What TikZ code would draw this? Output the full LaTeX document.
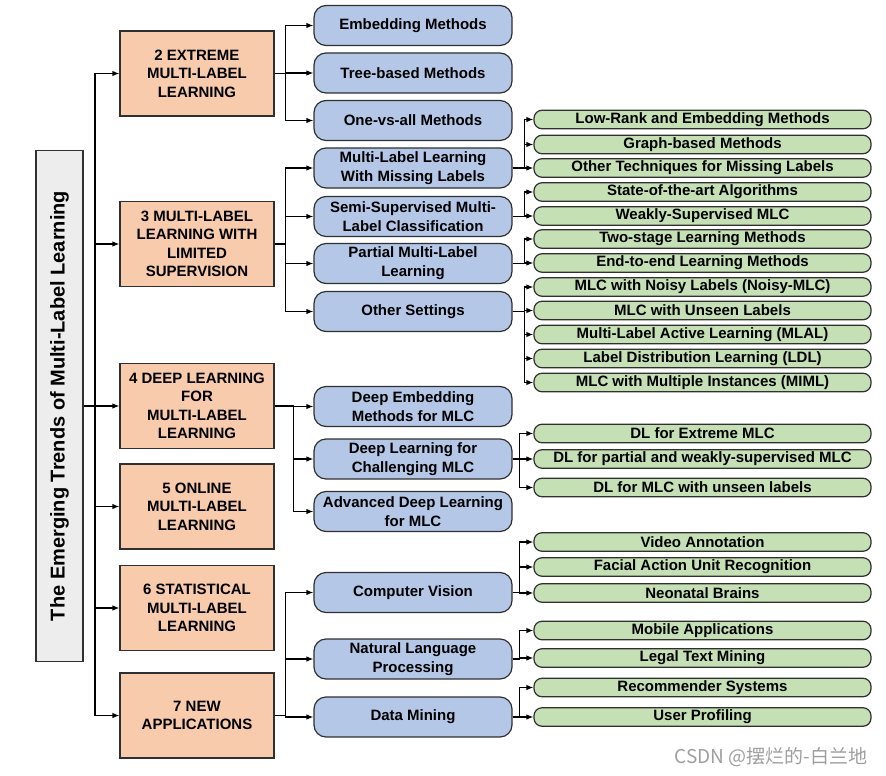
\documentclass[tikz,border=0pt]{standalone}
\usepackage{fontspec}
\setmainfont{Liberation Sans}
\newfontfamily\cjkfont{Noto Sans CJK SC}
\usetikzlibrary{arrows.meta}

\definecolor{boxline}{HTML}{303030}
\definecolor{titlefill}{HTML}{EDEDED}
\definecolor{secfill}{HTML}{F8CBAD}
\definecolor{topicfill}{HTML}{B4C7E7}
\definecolor{leaffill}{HTML}{C5E0B4}

\tikzset{
  titlebox/.style={draw=boxline, fill=titlefill, line width=1.2pt, minimum width=511pt, minimum height=47pt,
    font=\fontsize{20}{24}\selectfont\bfseries},
  secbox/.style={draw=boxline, fill=secfill, line width=1.2pt, minimum width=154pt, minimum height=85pt,
    inner sep=2pt, align=center, font=\fontsize{15}{18.5}\selectfont\bfseries},
  topicbox/.style={draw=boxline, fill=topicfill, line width=1.2pt, rounded corners=12pt, minimum width=198pt,
    minimum height=40pt, inner sep=2pt, align=center, font=\fontsize{15}{19}\selectfont\bfseries},
  leafbox/.style={draw=boxline, fill=leaffill, line width=1.2pt, rounded corners=8pt, minimum width=337pt,
    minimum height=18.5pt, inner sep=0pt, font=\fontsize{15}{18}\selectfont\bfseries},
  link/.style={line width=1.2pt, -{Latex[length=7pt,width=5.5pt]}},
}

\begin{document}
\begin{tikzpicture}[x=1pt, y=-1pt]
        \useasboundingbox (0,0) rectangle (886,776);

        % root
        \node[titlebox, rotate=90] (title) at (59.5,406) {The Emerging Trends of Multi-Label Learning};
        \coordinate (trunk) at (95,406);

        % sections
        \node[secbox] (sec2) at (197,73.5)  {2 EXTREME\\MULTI-LABEL\\LEARNING};
        \node[secbox] (sec3) at (197,244)   {3 MULTI-LABEL\\LEARNING WITH\\LIMITED\\SUPERVISION};
        \node[secbox] (sec4) at (197,406)   {4 DEEP LEARNING\\FOR\\MULTI-LABEL\\LEARNING};
        \node[secbox] (sec5) at (197,506.5) {5 ONLINE\\MULTI-LABEL\\LEARNING};
        \node[secbox] (sec6) at (197,608)   {6 STATISTICAL\\MULTI-LABEL\\LEARNING};
        \node[secbox] (sec7) at (197,715.5) {7 NEW\\APPLICATIONS};

        % topics
        \node[topicbox] (emb)      at (413,25.5)  {Embedding Methods};
        \node[topicbox] (tree)     at (413,73)    {Tree-based Methods};
        \node[topicbox] (ova)      at (413,120.5) {One-vs-all Methods};
        \node[topicbox] (miss)     at (413,168)   {Multi-Label Learning\\With Missing Labels};
        \node[topicbox] (semi)     at (413,216.5) {Semi-Supervised Multi-\\Label Classification};
        \node[topicbox] (part)     at (413,263.5) {Partial Multi-Label\\Learning};
        \node[topicbox] (other)    at (413,311.5) {Other Settings};
        \node[topicbox] (deepemb)  at (413,406.5) {Deep Embedding\\Methods for MLC};
        \node[topicbox] (deepchal) at (413,459)   {Deep Learning for\\Challenging MLC};
        \node[topicbox] (deepadv)  at (413,511.5) {Advanced Deep Learning\\for MLC};
        \node[topicbox] (cv)       at (413,592.5) {Computer Vision};
        \node[topicbox] (nlp)      at (413,659)   {Natural Language\\Processing};
        \node[topicbox] (dm)       at (413,717)   {Data Mining};

        % leaves
        \node[leafbox] (lowrank)   at (702.5,119.5) {Low-Rank and Embedding Methods};
        \node[leafbox] (graph)     at (702.5,144.5) {Graph-based Methods};
        \node[leafbox] (othtech)   at (702.5,168)   {Other Techniques for Missing Labels};
        \node[leafbox] (sota)      at (702.5,192)   {State-of-the-art Algorithms};
        \node[leafbox] (weak)      at (702.5,216)   {Weakly-Supervised MLC};
        \node[leafbox] (twostage)  at (702.5,239)   {Two-stage Learning Methods};
        \node[leafbox] (endtoend)  at (702.5,263)   {End-to-end Learning Methods};
        \node[leafbox] (noisy)     at (702.5,287)   {MLC with Noisy Labels (Noisy-MLC)};
        \node[leafbox] (unseen)    at (702.5,310.5) {MLC with Unseen Labels};
        \node[leafbox] (mlal)      at (702.5,334.5) {Multi-Label Active Learning (MLAL)};
        \node[leafbox] (ldl)       at (702.5,358.5) {Label Distribution Learning (LDL)};
        \node[leafbox] (miml)      at (702.5,382.5) {MLC with Multiple Instances (MIML)};
        \node[leafbox] (dlxml)     at (702.5,433.5) {DL for Extreme MLC};
        \node[leafbox] (dlpart)    at (702.5,459)   {DL for partial and weakly-supervised MLC};
        \node[leafbox] (dlunseen)  at (702.5,487.5) {DL for MLC with unseen labels};
        \node[leafbox] (video)     at (702.5,542)   {Video Annotation};
        \node[leafbox] (facial)    at (702.5,567)   {Facial Action Unit Recognition};
        \node[leafbox] (neonatal)  at (702.5,593)   {Neonatal Brains};
        \node[leafbox] (mobile)    at (702.5,630.5) {Mobile Applications};
        \node[leafbox] (legal)     at (702.5,658)   {Legal Text Mining};
        \node[leafbox] (recsys)    at (702.5,687.5) {Recommender Systems};
        \node[leafbox] (userprof)  at (702.5,717)   {User Profiling};

        % root -> sections
        \draw[link] (title.south) -- (title.south -| sec4.west);
        \draw[link] (trunk) |- (sec2.west);
        \draw[link] (trunk) |- (sec3.west);
        \draw[link] (trunk) |- (sec5.west);
        \draw[link] (trunk) |- (sec6.west);
        \draw[link] (trunk) |- (sec7.west);

        % sections -> topics
        \draw[link] (sec2.east) -- ++(11,0) |- (emb.west);
        \draw[link] (sec2.east) -- ++(11,0) |- (tree.west);
        \draw[link] (sec2.east) -- ++(11,0) |- (ova.west);
        \draw[link] (sec3.east) -- ++(11,0) |- (miss.west);
        \draw[link] (sec3.east) -- ++(11,0) |- (semi.west);
        \draw[link] (sec3.east) -- ++(11,0) |- (part.west);
        \draw[link] (sec3.east) -- ++(11,0) |- (other.west);
        \draw[link] (sec4.east) -- ++(19,0) |- (deepemb.west);
        \draw[link] (sec4.east) -- ++(19,0) |- (deepchal.west);
        \draw[link] (sec4.east) -- ++(19,0) |- (deepadv.west);
        \draw[link] (sec7.east) -- ++(11,0) |- (cv.west);
        \draw[link] (sec7.east) -- ++(11,0) |- (nlp.west);
        \draw[link] (sec7.east) -- ++(11,0) |- (dm.west);

        % topics -> leaves
        \draw[link] (miss.east) -- ++(12,0) |- (lowrank.west);
        \draw[link] (miss.east) -- ++(12,0) |- (graph.west);
        \draw[link] (miss.east) -- ++(12,0) |- (othtech.west);
        \draw[link] (semi.east) -- ++(12,0) |- (sota.west);
        \draw[link] (semi.east) -- ++(12,0) |- (weak.west);
        \draw[link] (part.east) -- ++(12,0) |- (twostage.west);
        \draw[link] (part.east) -- ++(12,0) |- (endtoend.west);
        \draw[link] (other.east) -- ++(12,0) |- (noisy.west);
        \draw[link] (other.east) -- ++(12,0) |- (unseen.west);
        \draw[link] (other.east) -- ++(12,0) |- (mlal.west);
        \draw[link] (other.east) -- ++(12,0) |- (ldl.west);
        \draw[link] (other.east) -- ++(12,0) |- (miml.west);
        \draw[link] (deepchal.east) -- ++(7,0) |- (dlxml.west);
        \draw[link] (deepchal.east) -- ++(7,0) |- (dlpart.west);
        \draw[link] (deepchal.east) -- ++(7,0) |- (dlunseen.west);
        \draw[link] (cv.east) -- ++(7,0) |- (video.west);
        \draw[link] (cv.east) -- ++(7,0) |- (facial.west);
        \draw[link] (cv.east) -- ++(7,0) |- (neonatal.west);
        \draw[link] (nlp.east) -- ++(7,0) |- (mobile.west);
        \draw[link] (nlp.east) -- ++(7,0) |- (legal.west);
        \draw[link] (dm.east) -- ++(7,0) |- (recsys.west);
        \draw[link] (dm.east) -- ++(7,0) |- (userprof.west);

        % watermark
        \node[anchor=east, text=black!38, font=\cjkfont\fontsize{19}{19}\selectfont] (mark) at (871,757) {CSDN @摆烂的-白兰地};
    \end{tikzpicture}
\end{document}
